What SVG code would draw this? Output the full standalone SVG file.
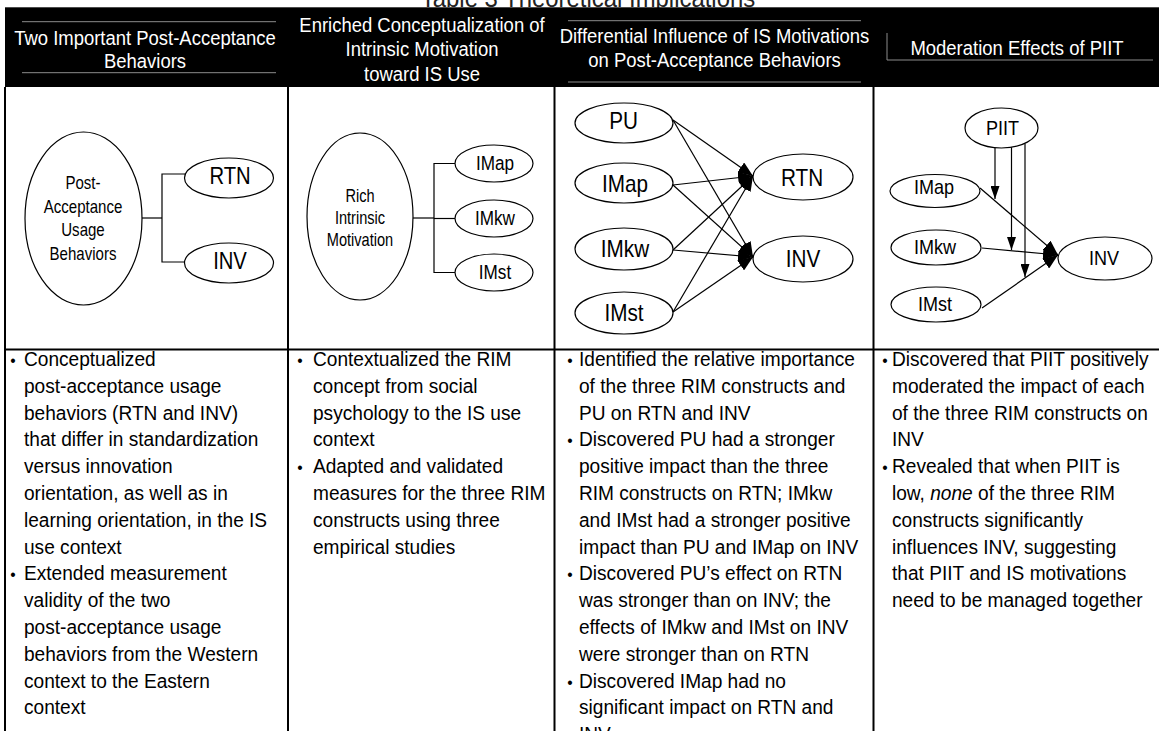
<svg xmlns="http://www.w3.org/2000/svg" width="1159" height="731" viewBox="0 0 1159 731">
<style>
text{font-family:"Liberation Sans",Arial,sans-serif}
.ttl{font-size:26px;fill:#222;text-anchor:middle}
.hd{font-size:21px;fill:#fff;text-anchor:middle}
.bd{font-size:21px;fill:#000}
.bl{font-size:17px;fill:#000;text-anchor:middle}
.lb{fill:#000;text-anchor:middle}
.el{fill:#fff;stroke:#000;stroke-width:1.2}
.ln{stroke:#000;stroke-width:1.2;fill:none}
.a1{stroke:#000;stroke-width:1.2;fill:none;marker-end:url(#ah)}
.a2{stroke:#000;stroke-width:1.2;fill:none;marker-end:url(#ah2)}
.grid{stroke:#000;stroke-width:2}
.hl{stroke:#8c8c8c;stroke-width:1}
</style>
<defs>
<marker id="ah" markerUnits="userSpaceOnUse" markerWidth="16" markerHeight="12" refX="15" refY="6" orient="auto"><path d="M0,0 L15,6 L0,12 z" fill="#000"/></marker>
<marker id="ah2" markerUnits="userSpaceOnUse" markerWidth="13" markerHeight="9" refX="13" refY="4.5" orient="auto"><path d="M0,0 L13,4.5 L0,9 z" fill="#000"/></marker>
</defs>
<rect width="1159" height="731" fill="#fff"/>
<text class="ttl" transform="translate(588,0) scale(0.92,1)" x="0" y="6.7">Table 3 Theoretical Implications</text>
<g id="header">
<rect x="5" y="7.3" width="1154" height="79.7" fill="#000"/>
<line class="hl" x1="22" y1="21.7" x2="276" y2="21.7"/>
<line class="hl" x1="22" y1="72.7" x2="276" y2="72.7"/>
<line class="hl" x1="568" y1="20.7" x2="861" y2="20.7"/>
<line class="hl" x1="568" y1="82" x2="861" y2="82"/>
<line class="hl" x1="887" y1="33" x2="887" y2="60"/>
<line class="hl" x1="887" y1="60" x2="1153" y2="60"/>
<g class="hd" transform="translate(145,0) scale(0.88,1)">
<text x="0" y="45.5">Two Important Post-Acceptance</text>
<text x="0" y="68.5">Behaviors</text></g>
<g class="hd" transform="translate(422,0) scale(0.88,1)">
<text x="0" y="32">Enriched Conceptualization of</text>
<text x="0" y="56.5">Intrinsic Motivation</text>
<text x="0" y="81">toward IS Use</text></g>
<g class="hd" transform="translate(714.5,0) scale(0.88,1)">
<text x="0" y="43.5">Differential Influence of IS Motivations</text>
<text x="0" y="67.5">on Post-Acceptance Behaviors</text></g>
<g class="hd" transform="translate(1017,0) scale(0.88,1)">
<text x="0" y="55.5">Moderation Effects of PIIT</text></g>
</g>
<g id="grid">
<line class="grid" x1="5" y1="87" x2="5" y2="731"/>
<line class="grid" x1="288" y1="87" x2="288" y2="731"/>
<line class="grid" x1="554.5" y1="87" x2="554.5" y2="731"/>
<line class="grid" x1="873.5" y1="87" x2="873.5" y2="731"/>
<line class="grid" x1="4" y1="349.5" x2="1159" y2="349.5"/>
</g>
<g id="connectors">
<polyline class="ln" points="142,218 162,218"/>
<polyline class="ln" points="185,174 162,174 162,262 185,262"/>
<polyline class="ln" points="413,218 434,218"/>
<polyline class="ln" points="455,163.5 434,163.5 434,272.5 455,272.5"/>
<line class="ln" x1="434" y1="218.5" x2="455" y2="218.5"/>
<line class="a1" x1="673" y1="120" x2="753" y2="176"/>
<line class="a1" x1="673" y1="120" x2="753" y2="257"/>
<line class="a1" x1="673" y1="185" x2="753" y2="176"/>
<line class="a1" x1="673" y1="185" x2="753" y2="257"/>
<line class="a1" x1="673" y1="250" x2="753" y2="176"/>
<line class="a1" x1="673" y1="250" x2="753" y2="257"/>
<line class="a1" x1="673" y1="312" x2="753" y2="176"/>
<line class="a1" x1="673" y1="312" x2="753" y2="257"/>
<line class="a1" x1="980" y1="188" x2="1058" y2="255"/>
<line class="a1" x1="982" y1="248" x2="1058" y2="255"/>
<line class="a1" x1="982" y1="308" x2="1058" y2="255"/>
<line class="a2" x1="995" y1="148" x2="995" y2="199"/>
<line class="a2" x1="1011.5" y1="147" x2="1011.5" y2="250"/>
<line class="a2" x1="1025" y1="143.5" x2="1025" y2="277"/>
</g>
<g id="d1-pau"><ellipse class="el" cx="83.5" cy="218.5" rx="58.5" ry="86.5"/>
<g class="lb" style="font-size:17.5px" transform="translate(83,0) scale(0.86,1)">
<text x="0" y="189.5">Post-</text>
<text x="0" y="213">Acceptance</text>
<text x="0" y="236.5">Usage</text>
<text x="0" y="260">Behaviors</text></g></g>
<g id="d1-rtn"><ellipse class="el" cx="229" cy="178" rx="44.5" ry="20"/><text class="lb" style="font-size:23px" transform="translate(230,0) scale(0.88,1)" x="0" y="184">RTN</text></g>
<g id="d1-inv"><ellipse class="el" cx="229" cy="263" rx="44.5" ry="20"/><text class="lb" style="font-size:23px" transform="translate(230,0) scale(0.88,1)" x="0" y="269">INV</text></g>
<g id="d2-rim"><ellipse class="el" cx="360" cy="216.5" rx="53" ry="83.5"/>
<g class="lb" style="font-size:18px" transform="translate(360,0) scale(0.81,1)">
<text x="0" y="202.5">Rich</text>
<text x="0" y="224">Intrinsic</text>
<text x="0" y="246.5">Motivation</text></g></g>
<g id="d2-imap"><ellipse class="el" cx="494" cy="163.5" rx="39" ry="18.5"/><text class="lb" style="font-size:19.5px" transform="translate(495,0) scale(0.88,1)" x="0" y="170">IMap</text></g>
<g id="d2-imkw"><ellipse class="el" cx="494" cy="218.5" rx="39" ry="18.5"/><text class="lb" style="font-size:19.5px" transform="translate(495,0) scale(0.88,1)" x="0" y="225">IMkw</text></g>
<g id="d2-imst"><ellipse class="el" cx="494" cy="272.5" rx="39" ry="18.5"/><text class="lb" style="font-size:19.5px" transform="translate(495,0) scale(0.88,1)" x="0" y="279.5">IMst</text></g>
<g id="d3-pu"><ellipse class="el" cx="624" cy="123" rx="49" ry="20"/><text class="lb" style="font-size:23px" transform="translate(623.5,0) scale(0.9,1)" x="0" y="129.5">PU</text></g>
<g id="d3-imap"><ellipse class="el" cx="624" cy="183" rx="49" ry="20"/><text class="lb" style="font-size:23px" transform="translate(625,0) scale(0.9,1)" x="0" y="192">IMap</text></g>
<g id="d3-imkw"><ellipse class="el" cx="624" cy="249" rx="49" ry="21"/><text class="lb" style="font-size:23px" transform="translate(625,0) scale(0.9,1)" x="0" y="257.5">IMkw</text></g>
<g id="d3-imst"><ellipse class="el" cx="624" cy="313" rx="49" ry="21"/><text class="lb" style="font-size:23px" transform="translate(624,0) scale(0.9,1)" x="0" y="321">IMst</text></g>
<g id="d3-rtn"><ellipse class="el" cx="803" cy="177" rx="50" ry="23"/><text class="lb" style="font-size:23px" transform="translate(802,0) scale(0.9,1)" x="0" y="186">RTN</text></g>
<g id="d3-inv"><ellipse class="el" cx="803" cy="259" rx="50" ry="23"/><text class="lb" style="font-size:23px" transform="translate(803,0) scale(0.9,1)" x="0" y="267">INV</text></g>
<g id="d4-piit"><ellipse class="el" cx="1001.5" cy="128" rx="36.5" ry="20"/><text class="lb" style="font-size:20.5px" transform="translate(1002.5,0) scale(0.88,1)" x="0" y="135.5">PIIT</text></g>
<g id="d4-imap"><ellipse class="el" cx="935" cy="191" rx="45" ry="16.5"/><text class="lb" style="font-size:20.5px" transform="translate(934,0) scale(0.88,1)" x="0" y="194">IMap</text></g>
<g id="d4-imkw"><ellipse class="el" cx="936" cy="247.5" rx="45" ry="17.5"/><text class="lb" style="font-size:20.5px" transform="translate(935,0) scale(0.88,1)" x="0" y="254">IMkw</text></g>
<g id="d4-imst"><ellipse class="el" cx="936" cy="304.5" rx="45" ry="17.5"/><text class="lb" style="font-size:20.5px" transform="translate(935,0) scale(0.88,1)" x="0" y="311">IMst</text></g>
<g id="d4-inv"><ellipse class="el" cx="1105" cy="258.5" rx="47" ry="21.5"/><text class="lb" style="font-size:20.5px" transform="translate(1104,0) scale(0.88,1)" x="0" y="265.5">INV</text></g>
<g id="body-col1" class="bd" transform="translate(24,0) scale(0.91,1)">
<text class="bl" x="-12.1" y="366">•</text>
<text x="0" y="366">Conceptualized</text>
<text x="0" y="392.8">post-acceptance usage</text>
<text x="0" y="419.6">behaviors (RTN and INV)</text>
<text x="0" y="446.4">that differ in standardization</text>
<text x="0" y="473.2">versus innovation</text>
<text x="0" y="500">orientation, as well as in</text>
<text x="0" y="526.8">learning orientation, in the IS</text>
<text x="0" y="553.6">use context</text>
<text class="bl" x="-12.1" y="580.4">•</text>
<text x="0" y="580.4">Extended measurement</text>
<text x="0" y="607.2">validity of the two</text>
<text x="0" y="634">post-acceptance usage</text>
<text x="0" y="660.8">behaviors from the Western</text>
<text x="0" y="687.6">context to the Eastern</text>
<text x="0" y="714.4">context</text>
</g>
<g id="body-col2" class="bd" transform="translate(313,0) scale(0.91,1)">
<text class="bl" x="-14.3" y="366">•</text>
<text x="0" y="366">Contextualized the RIM</text>
<text x="0" y="392.8">concept from social</text>
<text x="0" y="419.6">psychology to the IS use</text>
<text x="0" y="446.4">context</text>
<text class="bl" x="-14.3" y="473.2">•</text>
<text x="0" y="473.2">Adapted and validated</text>
<text x="0" y="500">measures for the three RIM</text>
<text x="0" y="526.8">constructs using three</text>
<text x="0" y="553.6">empirical studies</text>
</g>
<g id="body-col3" class="bd" transform="translate(579,0) scale(0.91,1)">
<text class="bl" x="-9.9" y="366">•</text>
<text x="0" y="366">Identified the relative importance</text>
<text x="0" y="392.8">of the three RIM constructs and</text>
<text x="0" y="419.6">PU on RTN and INV</text>
<text class="bl" x="-9.9" y="446.4">•</text>
<text x="0" y="446.4">Discovered PU had a stronger</text>
<text x="0" y="473.2">positive impact than the three</text>
<text x="0" y="500">RIM constructs on RTN; IMkw</text>
<text x="0" y="526.8">and IMst had a stronger positive</text>
<text x="0" y="553.6">impact than PU and IMap on INV</text>
<text class="bl" x="-9.9" y="580.4">•</text>
<text x="0" y="580.4">Discovered PU’s effect on RTN</text>
<text x="0" y="607.2">was stronger than on INV; the</text>
<text x="0" y="634">effects of IMkw and IMst on INV</text>
<text x="0" y="660.8">were stronger than on RTN</text>
<text class="bl" x="-9.9" y="687.6">•</text>
<text x="0" y="687.6">Discovered IMap had no</text>
<text x="0" y="714.4">significant impact on RTN and</text>
<text x="0" y="741.2">INV</text>
</g>
<g id="body-col4" class="bd" transform="translate(892,0) scale(0.91,1)">
<text class="bl" x="-7.7" y="366">•</text>
<text x="0" y="366">Discovered that PIIT positively</text>
<text x="0" y="392.8">moderated the impact of each</text>
<text x="0" y="419.6">of the three RIM constructs on</text>
<text x="0" y="446.4">INV</text>
<text class="bl" x="-7.7" y="473.2">•</text>
<text x="0" y="473.2">Revealed that when PIIT is</text>
<text x="0" y="500">low, <tspan font-style="italic">none</tspan> of the three RIM</text>
<text x="0" y="526.8">constructs significantly</text>
<text x="0" y="553.6">influences INV, suggesting</text>
<text x="0" y="580.4">that PIIT and IS motivations</text>
<text x="0" y="607.2">need to be managed together</text>
</g>
</svg>
